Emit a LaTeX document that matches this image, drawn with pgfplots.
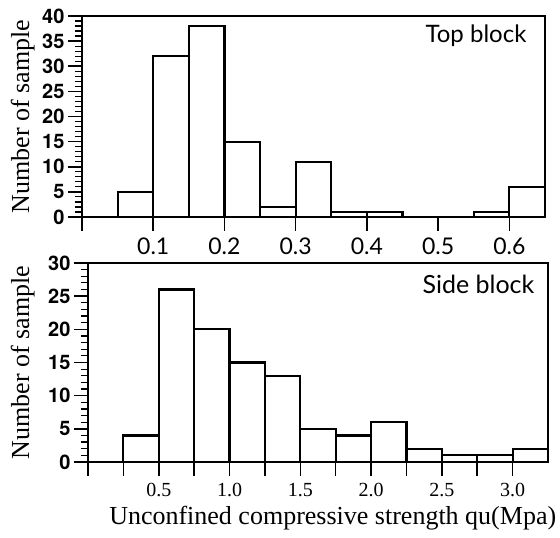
\documentclass[border=0pt]{standalone}
\usepackage{pgfplots}
\pgfplotsset{compat=1.18}
\usepackage{fontspec}
\setmainfont{Liberation Serif}
\newfontfamily\heros{TeX Gyre Heros}
\newfontfamily\lato{Lato}

\begin{document}
\begin{tikzpicture}
\path[use as bounding box] (0pt,0pt) rectangle (560pt,538pt);
\pgfplotsset{
  common/.style={
    scale only axis,
    clip=false,
    axis line style={line width=2.4pt},
    tick style={black, line width=1.6pt},
    minor tick style={black, line width=1.2pt},
    tick align=outside,
    xtick pos=bottom, ytick pos=left,
    major tick length=14pt, minor tick length=7pt,
    minor y tick num=4,
    /pgf/number format/assume math mode=true,
    yticklabel style={font=\heros\bfseries\fontsize{20}{20}\selectfont},
    ymin=0,
    anchor=south west,
    ylabel={Number of sample},
    ylabel style={font=\fontsize{26}{26}\selectfont, anchor=center},
  },
  bars/.style={ybar interval, fill=white, draw=black, line width=2.2pt},
}

\begin{axis}[common,
  at={(82pt,321pt)}, width=463pt, height=201pt,
  xmin=0, xmax=0.65, ymax=40,
  ytick={0,5,10,15,20,25,30,35,40},
  xtick={0,0.1,0.2,0.3,0.4,0.5,0.6},
  xticklabels={{},0.1,0.2,0.3,0.4,0.5,0.6},
  xticklabel style={font=\lato\fontsize{23}{23}\selectfont, yshift=-3pt},
  ylabel style={at={(axis description cs:-0.128,0.5)}},
]
\addplot[bars] coordinates {(0,0) (0.05,5) (0.1,32) (0.15,38) (0.2,15) (0.25,2) (0.3,11) (0.35,1) (0.4,1) (0.45,0) (0.5,0) (0.55,1) (0.6,6) (0.65,0)};
\node[anchor=base east, font=\lato\fontsize{24}{24}\selectfont] at (rel axis cs:0.9675,0.866) {Top block};
\end{axis}

\begin{axis}[common,
  at={(88pt,76pt)}, width=460pt, height=199pt,
  xmin=0, xmax=3.25, ymax=30,
  ytick={0,5,10,15,20,25,30},
  xtick={0,0.25,0.5,0.75,1.0,1.25,1.5,1.75,2.0,2.25,2.5,2.75,3.0},
  xticklabels={{},{},0.5,{},1.0,{},1.5,{},2.0,{},2.5,{},3.0},
  xticklabel style={font=\fontsize{20}{20}\selectfont, yshift=-4pt},
  ylabel style={at={(axis description cs:-0.142,0.5)}},
  xlabel={Unconfined compressive strength qu(Mpa)},
  xlabel style={at={(axis description cs:0.532,-0.281)}, anchor=center, font=\fontsize{26}{26}\selectfont},
]
\addplot[bars] coordinates {(0,0) (0.25,4) (0.5,26) (0.75,20) (1.0,15) (1.25,13) (1.5,5) (1.75,4) (2.0,6) (2.25,2) (2.5,1) (2.75,1) (3.0,2) (3.25,0)};
\node[anchor=base east, font=\lato\fontsize{25}{25}\selectfont] at (rel axis cs:0.978,0.849) {Side block};
\end{axis}
\end{tikzpicture}
\end{document}
